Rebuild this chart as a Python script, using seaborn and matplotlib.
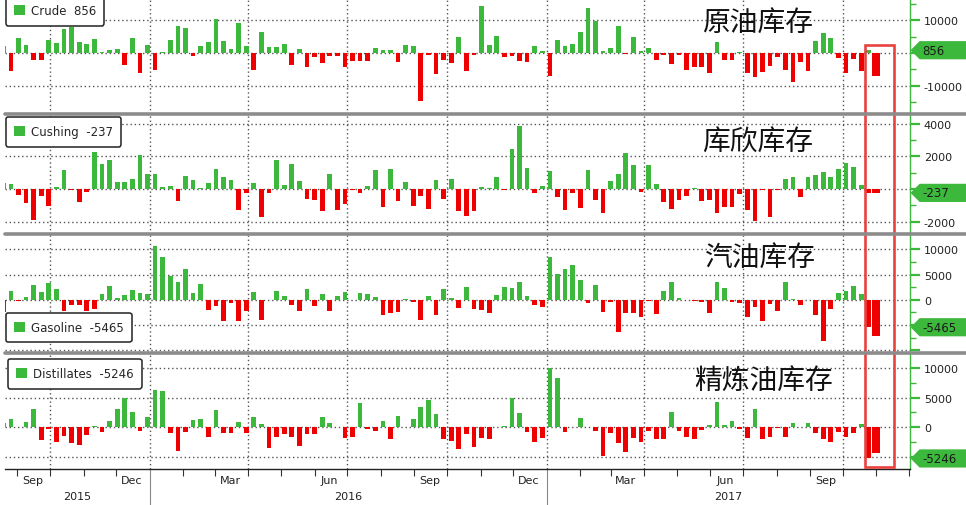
import numpy as np
import pandas as pd
import seaborn as sns
import matplotlib.pyplot as plt
import matplotlib.dates as mdates
import matplotlib.transforms as mtransforms
from matplotlib.patches import Patch, Rectangle
from matplotlib.lines import Line2D
from matplotlib.path import Path
from matplotlib.ticker import NullFormatter

GREEN = '#3cb83c'
RED = '#ee0000'

# weekly EIA inventory changes (thousand barrels), one bar per week
dates = pd.date_range('2015-08-19', periods=115, freq='7D')
next_date = pd.Timestamp('2017-11-01')  # the extra bar pasted into the red box

crude = [2200, -5500, 4600, 2500, -2100, -2100, 4100, 3100, 7400, 7900,
         3500, 2800, 4300, 200, 1000, 1200, -3600, 4600, -6000, 2600,
         -5100, 200, 4100, 8400, 7700, -800, 2200, 3500, 10500, 3800,
         1200, 9300, 2300, -5100, 6600, 1900, 1900, 2800, -3600, 1200,
         -4200, -1300, -3200, -800, -800, -4200, -2500, -2600, -2400, 1400,
         1000, 900, -2700, 2500, 2200, -14700, -500, -6400, -2200, -3100,
         4900, -5500, -500, 14400, 2500, 5300, -1100, -800, -2400, -2700,
         2200, 700, -7200, 4100, 2200, 2800, 6600, 13900, 9700, 600,
         1500, 8400, -200, 4900, 600, 1500, -2200, -600, -3400, -500,
         -5300, -4400, -4400, -6200, 3300, -2200, -2200, 200, -6200, -7500,
         -5800, -3900, -1300, -5300, -9000, -2900, -5500, 3800, 6000, 4600,
         -1600, -6000, -1900, -5600, 856]

cushing = [350, 300, -350, -880, -1900, -400, -1020, 140, 1160, -60,
           -780, -160, 2240, 1530, 1770, 410, 410, 610, 2100, 920,
           920, 140, 200, -710, 820, 550, 80, 390, 1220, 750,
           550, -1290, -240, 370, -1730, -240, 1770, 240, 1530, 470,
           -610, -670, -1330, 920, -1270, -920, -60, -240, 200, 1160,
           -1080, 1220, -710, 430, -1020, -410, -1220, 550, -610, 610,
           -1330, -1630, -1330, 120, 60, 750, -60, 2450, 3860, 1290,
           -240, 200, 1100, -510, -1270, -240, -1180, 1160, -650, -1490,
           490, 920, 2200, 1470, -160, 1490, 300, -780, -1220, -670,
           -410, 60, -710, -670, -1450, -1120, -1080, -310, -1290, -1940,
           -60, -1690, -40, 610, 750, -470, 750, 860, 1020, 750,
           1220, 1590, 1370, 270, -237]

gasoline = [-2500, 1650, -200, 460, 2900, 1450, 3230, 2100, -2180, -1060,
            -1060, -2180, -1850, 1120, 2770, 330, 920, 1910, 1320, 1120,
            10600, 8500, 4750, 3560, 6070, 1320, 3100, -2050, -1190, -4160,
            -660, -4290, -2180, 1580, -4030, -70, 1780, 790, -990, -2180,
            2110, -1190, 1120, -2310, 660, 1520, -70, 1320, 1120, 590,
            -2970, -2640, -2380, 70, -460, -3960, 730, -2970, 2180, 330,
            -1650, 2570, -1780, -1980, -2640, 920, 2570, 2380, 3560, 790,
            -990, -1390, 8510, 5080, 6140, 6860, 3890, -660, 2970, -2380,
            -400, -6340, -2710, -2640, -3500, -200, -2840, 1650, 3430, 330,
            -70, -200, -530, -2640, 3430, 2310, -530, -660, -3370, -1390,
            -4160, -860, -2180, 3430, 130, -1060, -70, -2970, -8120, -1850,
            1250, 1650, 2640, 1120, -5465]

distillates = [670, 1400, 50, 950, 3080, -2130, -280, -2410, -1400, -2580,
               -2910, -1230, 220, -730, 1010, 3020, 4870, 2580, -560, 1680,
               6270, 6100, -900, -3920, -730, 1230, 1400, -1570, 2910, -1010,
               -1010, 900, -1010, 1680, 560, -3420, -1570, -1180, -1570, -3080,
               -1180, -1180, 1680, 730, 50, -1740, -1570, 4030, -220, -670,
               1060, -1900, 1900, 60, 1400, 3420, 4590, 2240, -1900, -2240,
               -3580, -1180, -3250, -1740, -1900, 110, 220, 4870, 2460, -730,
               -2410, -1740, 10020, 8230, -840, 110, 1570, 60, -560, -4760,
               -900, -2580, -4090, -1850, -2410, -560, -2020, -1900, 2520, -560,
               -1570, -1900, -450, 390, 4200, 390, 1060, -280, -1850, 3080,
               -2020, -1680, -170, -1680, 780, 110, 780, -1010, -2000, -2500,
               -730, -1570, -1010, 560, -5246]

next_week = [-7000, -270, -7300, -4300]

names = ['Crude', 'Cushing', 'Gasoline', 'Distillates']
titles = ['原油库存', '库欣库存', '汽油库存', '精炼油库存']
series = [crude, cushing, gasoline, distillates]

# layout (pixels of the 966x506 picture)
W, H = 966, 506
spans = [(0, 115), (115, 235), (235, 354), (354, 470)]
ylims = [(-18769, 16615), (-2752, 4587), (-10575, 13036), (-7020, 12508)]
major = [[-10000, 0, 10000], [-2000, 0, 2000, 4000],
         [-10000, -5000, 0, 5000, 10000], [-5000, 0, 5000, 10000]]
major_lbl = [['-10000', '', '10000'], ['-2000', '', '2000', '4000'],
             ['', '', '0', '5000', '10000'], ['', '0', '5000', '10000']]
minor = [[-15000, -5000, 5000, 15000], [-1000, 1000, 3000],
         [-7500, -2500, 2500, 7500], [-2500, 2500, 7500]]
title_pos = [(758, 23), (758, 143), (760, 258), (764, 381)]
leg_pos = [('upper left', (0.001, 1.026)), ('upper left', (0.001, 0.975)),
           ('lower left', (0.001, 0.092)), ('upper left', (0.0033, 0.948))]

DOT = (0, (1, 2))


def tag_box(x0, y0, width, height, mutation_size):
    # flag shaped label, running off the right edge of the picture
    pad = 0.22 * mutation_size
    x0, y0 = x0 - pad, y0 - pad
    x1, y1 = x0 + width + 2 * pad + 4 * mutation_size, y0 + height + 2 * pad
    tip = (y1 - y0) / 2
    return Path([(x0, y0), (x1, y0), (x1, y1), (x0, y1), (x0 - tip, y0 + tip), (x0, y0)],
                closed=True)


sns.set_theme(style='white')
plt.rcParams['font.family'] = ['DejaVu Sans', 'Noto Sans CJK SC']

fig = plt.figure(figsize=(W / 100, H / 100), dpi=100)

xnum = mdates.date2num(dates)
x_next = mdates.date2num(next_date)
xlim = (mdates.date2num(pd.Timestamp('2015-08-20 14:00')),
        mdates.date2num(pd.Timestamp('2017-12-02')))
quarters = mdates.date2num(pd.date_range('2015-10-01', '2017-10-01', freq='QS'))

axes = []
for i, vals in enumerate(series):
    top, bot = spans[i]
    ax = fig.add_axes([5 / W, 1 - bot / H, 905 / W, (bot - top) / H])
    axes.append(ax)

    df = pd.DataFrame({'week': xnum, 'change': vals})
    df['dir'] = np.where(df['change'] >= 0, 'build', 'draw')
    sns.barplot(data=df, x='week', y='change', hue='dir', orient='x',
                palette={'build': GREEN, 'draw': RED}, native_scale=True,
                width=0.62, errorbar=None, saturation=1, legend=False,
                linewidth=0, ax=ax)
    sns.barplot(x=[x_next], y=[next_week[i]], orient='x', native_scale=True,
                width=7.6, color=RED, errorbar=None, saturation=1,
                linewidth=0, ax=ax)

    ax.set_xlim(xlim)
    ax.set_ylim(ylims[i])
    ax.set_xlabel('')
    ax.set_ylabel('')

    for s in ['top', 'left', 'bottom']:
        ax.spines[s].set_visible(False)
    ax.spines['right'].set_color(GREEN)
    ax.spines['right'].set_linewidth(1.0)

    ax.yaxis.tick_right()
    ax.set_yticks(major[i])
    ax.set_yticklabels(major_lbl[i])
    ax.set_yticks(minor[i], minor=True)
    ax.tick_params(axis='y', which='both', right=True, left=False, direction='out',
                   color=GREEN, labelcolor='#222', labelsize=8)
    ax.tick_params(axis='y', which='major', length=7, width=1.6, pad=3)
    ax.tick_params(axis='y', which='minor', length=4, width=1)
    ax.tick_params(axis='x', which='both', bottom=False, labelbottom=False)

    ax.grid(axis='y', which='major', linestyle=DOT, linewidth=1.0, color='#555')
    for q in quarters:
        ax.axvline(q, linestyle=DOT, linewidth=1.0, color='#555', zorder=0.6)

    last = vals[-1]
    loc, anchor = leg_pos[i]
    leg = ax.legend(handles=[Patch(facecolor=GREEN, edgecolor='none')],
                    labels=[f'{names[i]}  {last:g}'], loc=loc, bbox_to_anchor=anchor,
                    frameon=True, fancybox=True, fontsize=8.5, handlelength=0.9,
                    handleheight=0.9, handletextpad=0.5, borderpad=0.7, borderaxespad=0)
    frame = leg.get_frame()
    frame.set_edgecolor('#222')
    frame.set_linewidth(1.1)
    frame.set_alpha(1)

    trans = mtransforms.blended_transform_factory(ax.transAxes, ax.transData)
    ax.text(1.0135, last, f'{last:g}', transform=trans, ha='left', va='center',
            fontsize=8.5, color='#1a1a1a', clip_on=False, zorder=5,
            bbox=dict(boxstyle=tag_box, fc=GREEN, ec='none'))

    tx, ty = title_pos[i]
    fig.text(tx / W, 1 - ty / H, titles[i], family=['Noto Sans CJK SC'], fontsize=20,
             ha='center', va='center', color='#111')

# bottom date axis
ax4 = axes[-1]
ax4.spines['bottom'].set_visible(True)
ax4.spines['bottom'].set_color('#222')
ax4.spines['bottom'].set_linewidth(1.0)
ax4.xaxis.set_major_locator(mdates.YearLocator())
ax4.xaxis.set_minor_locator(mdates.MonthLocator())
ax4.xaxis.set_major_formatter(NullFormatter())
ax4.tick_params(axis='x', which='major', bottom=True, length=35, width=0.8, color='#888')
ax4.tick_params(axis='x', which='minor', bottom=True, length=5, width=0.8, color='#333')

xt = mtransforms.blended_transform_factory(ax4.transData, ax4.transAxes)
for d in pd.date_range('2015-09-01', '2017-09-01', freq='3MS'):
    ax4.text(mdates.date2num(d + pd.Timedelta(days=14)), -0.095, d.strftime('%b'),
             transform=xt, ha='center', va='center', fontsize=8, color='#222')
year_edges = [xlim[0], mdates.date2num(pd.Timestamp('2016-01-01')),
              mdates.date2num(pd.Timestamp('2017-01-01')), xlim[1]]
for k, yr in enumerate(['2015', '2016', '2017']):
    ax4.text((year_edges[k] + year_edges[k + 1]) / 2, -0.235, yr, transform=xt,
             ha='center', va='center', fontsize=8, color='#222')

# grey separators between the panels
for y in [115, 235, 354]:
    fig.add_artist(Line2D([5 / W, 1], [1 - y / H, 1 - y / H], color='#8c8c8c', lw=2.6))

# red highlight box round the latest weeks
fig.add_artist(Rectangle((865.3 / W, 1 - 468.3 / H), 28.4 / W, 422 / H,
                         transform=fig.transFigure, fill=False, ec='#e8433f', lw=1.9))

fig.savefig('out.png', dpi=100)
